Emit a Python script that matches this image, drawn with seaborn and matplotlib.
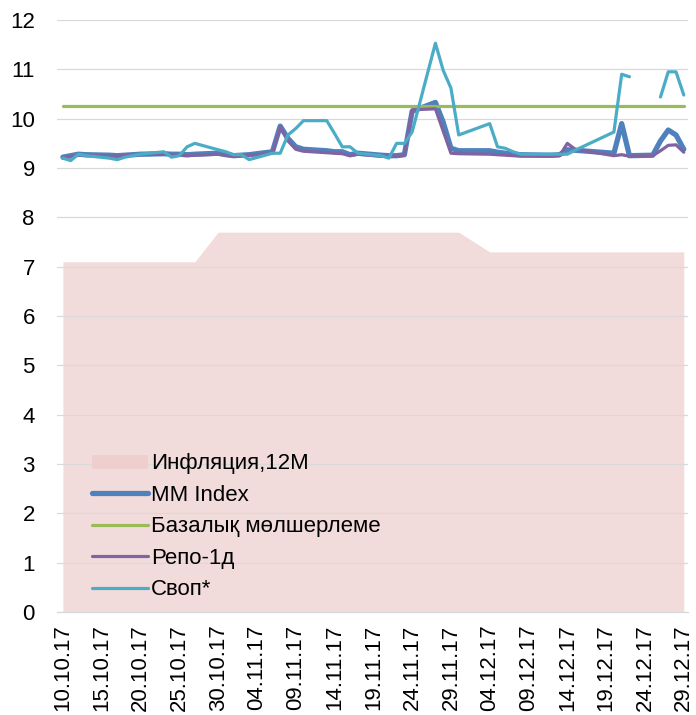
import seaborn as sns
import matplotlib
matplotlib.use('Agg')
import matplotlib.pyplot as plt
from matplotlib.lines import Line2D
from matplotlib.patches import Patch
import pandas as pd
import numpy as np

# business days 10.10.17 - 29.12.17 (KZ holidays removed)
holidays = ['2017-12-01', '2017-12-18', '2017-12-19']
dates = pd.bdate_range('2017-10-10', '2017-12-29')
dates = dates[~dates.isin(pd.to_datetime(holidays))]

inflation = [7.1] * 14 + [7.7] * 24 + [7.3] * 18
base_rate = [10.25] * 56

mm_index = [9.22, 9.25, 9.28, 9.27, 9.26, 9.25, 9.26, 9.27, 9.28, 9.29, 9.28, 9.28, 9.27, 9.28, 9.30, 9.27,
            9.25, 9.26, 9.27, 9.33, 9.85, 9.60, 9.43, 9.38, 9.35, 9.33, 9.33, 9.27, 9.30, 9.26, 9.25, 9.25,
            9.27, 10.15, 10.33, 9.93, 9.40, 9.35,
            9.35, 9.32, 9.30, 9.28, 9.27, 9.26, 9.26, 9.27, 9.37, 9.36, 9.30, 9.90, 9.25, 9.26, 9.55, 9.77,
            9.67, 9.38]
repo = [9.20, 9.23, 9.26, 9.25, 9.24, 9.24, 9.25, 9.26, 9.27, 9.28, 9.27, 9.26, 9.25, 9.26, 9.28, 9.26,
        9.24, 9.25, 9.26, 9.30, 9.83, 9.55, 9.38, 9.34, 9.31, 9.30, 9.29, 9.25, 9.28, 9.24, 9.24, 9.24,
        9.26, 10.18, 10.20, 9.75, 9.30, 9.29,
        9.28, 9.27, 9.26, 9.25, 9.24, 9.24, 9.24, 9.25, 9.50, 9.38, 9.25, 9.27, 9.24, 9.25, 9.35, 9.46,
        9.47, 9.32]
swap = [9.20, 9.15, 9.28, 9.25, 9.20, 9.17, 9.22, 9.25, 9.28, 9.33, 9.22, 9.25, 9.43, 9.50, 9.37, 9.33,
        9.27, 9.27, 9.17, 9.30, 9.30, 9.67, 9.80, 9.96, 9.96, 9.70, 9.43, 9.43, 9.30, 9.25, 9.20, 9.50,
        9.50, 9.73, 11.53, 10.98, 10.62, 9.67,
        9.90, 9.43, 9.40, 9.33, 9.28, 9.28, 9.28, 9.28, 9.28, 9.36, 9.73, 10.90, 10.85, np.nan, 10.44, 10.95,
        10.95, 10.48]

df = pd.DataFrame({'date': dates, 'infl': inflation, 'mm': mm_index, 'base': base_rate,
                   'repo': repo, 'swap': swap})
df['seg'] = (df['swap'].isna()).cumsum()

sns.set_theme(style='white')
plt.rcParams['font.family'] = ['Liberation Sans', 'DejaVu Sans']
plt.rcParams['text.color'] = 'black'

c_infl = '#F2DCDB'
c_mm = '#4F81BD'
c_base = '#9BBB59'
c_repo = '#8064A2'
c_swap = '#4BACC6'

fig = plt.figure(figsize=(6.96, 7.15), dpi=100)
ax = fig.add_axes([0.082, 0.144, 0.906, 0.828])

ax.fill_between(df['date'], df['infl'], color=c_infl, lw=0, zorder=1)
ax.yaxis.grid(True, color='#D9D9D9', lw=0.9, zorder=1.5)
ax.set_axisbelow(False)

sns.lineplot(data=df, x='date', y='mm', ax=ax, color=c_mm, lw=3.8, zorder=3)
sns.lineplot(data=df, x='date', y='base', ax=ax, color=c_base, lw=2.3, zorder=3)
sns.lineplot(data=df, x='date', y='repo', ax=ax, color=c_repo, lw=2.3, zorder=3)
sw = df.dropna(subset=['swap'])
sns.lineplot(data=sw, x='date', y='swap', units='seg', estimator=None, ax=ax,
             color=c_swap, lw=2.3, zorder=4)

ax.set_ylim(0, 12)
ax.set_yticks(range(0, 13))
ax.set_xlim(dates[0] - pd.Timedelta(hours=18), dates[-1] + pd.Timedelta(hours=12))
ticks = pd.date_range('2017-10-10', '2017-12-29', freq='5D')
ax.set_xticks(ticks)
ax.set_xticklabels([t.strftime('%d.%m.%y') for t in ticks], rotation=90)
ax.tick_params(axis='both', length=0, labelsize=16, colors='black')
ax.tick_params(axis='y', pad=16)
ax.tick_params(axis='x', pad=9)
ax.set_xlabel('')
ax.set_ylabel('')
for s in ['top', 'right', 'left']:
    ax.spines[s].set_visible(False)
ax.spines['bottom'].set_color('#D9D9D9')
ax.spines['bottom'].set_linewidth(0.9)

handles = [Patch(facecolor='#EFCFCE', edgecolor='none'),
           Line2D([], [], color=c_mm, lw=3.8, solid_capstyle='round'),
           Line2D([], [], color=c_base, lw=2.3, solid_capstyle='round'),
           Line2D([], [], color=c_repo, lw=2.3, solid_capstyle='round'),
           Line2D([], [], color=c_swap, lw=2.3, solid_capstyle='round')]
labels = ['Инфляция,12M', 'MM Index', 'Базалық мөлшерлеме', 'Репо-1д', 'Своп*']
leg = ax.legend(handles, labels, loc='lower left', bbox_to_anchor=(0.042, 0.005), frameon=False,
                fontsize=16, handlelength=2.5, handleheight=0.6, handletextpad=0.15,
                labelspacing=0.47, borderaxespad=0)
for t in leg.get_texts():
    t.set_color('black')

fig.savefig('out.png', dpi=100)
